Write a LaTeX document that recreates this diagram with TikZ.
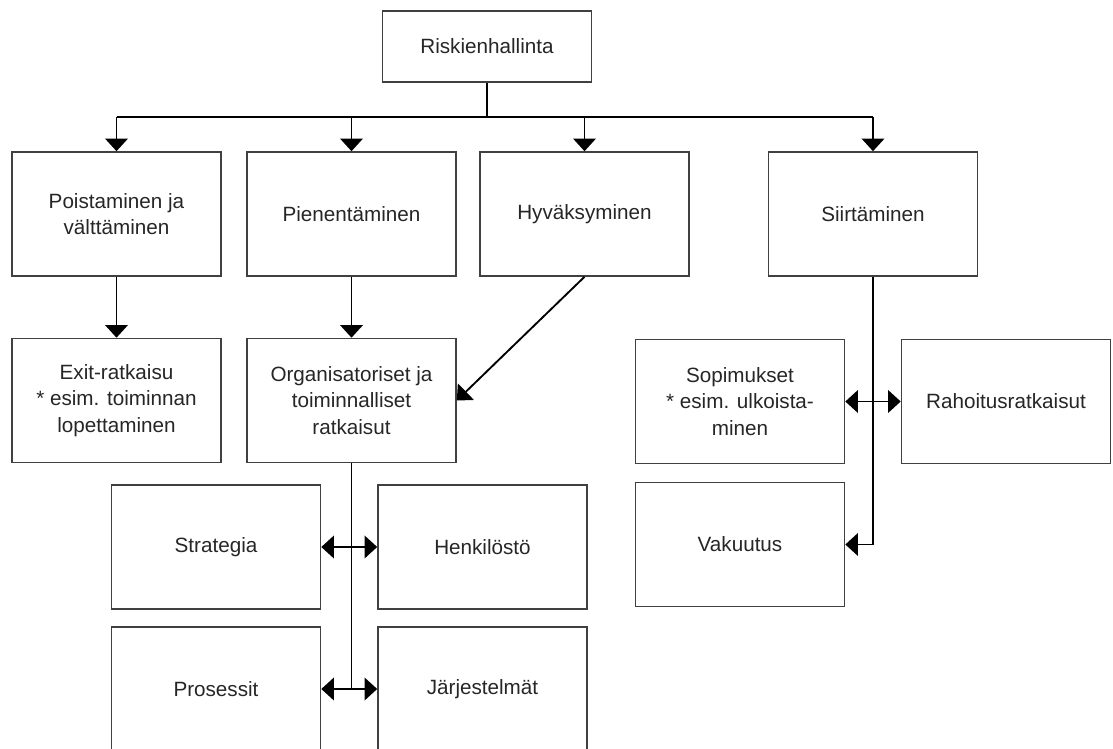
\documentclass[tikz,border=0pt]{standalone}
\usepackage{fontspec}
\setmainfont{Liberation Sans}
\usetikzlibrary{arrows.meta}

\begin{document}
\begin{tikzpicture}[x=0.75pt, y=-0.75pt,
    laatikko/.style={draw=black!75, line width=1.2pt, minimum width=156.75pt,
        minimum height=93pt, align=center, inner sep=2pt,
        font=\fontsize{15.5}{20}\selectfont, text=black!85},
    nuoli/.style={line width=1.4pt, -{Triangle[length=9.5pt, width=17pt]}},
    kaksi/.style={line width=1.4pt, {Triangle[length=9.5pt, width=17pt]}-{Triangle[length=9.5pt, width=17pt]}},
    viiva/.style={line width=1.4pt}]

    % Kuvan rajat
    \useasboundingbox (0, 0) rectangle (1113, 749);
    \clip (0, 0) rectangle (1113, 749);

    % Ylin laatikko
    \node[laatikko, minimum height=53.25pt] (risk) at (487, 46.5) {Riskienhallinta};

    % Toinen taso
    \node[laatikko] (poist) at (116.5, 214) {Poistaminen ja\\välttäminen};
    \node[laatikko] (pien) at (351.5, 214) {Pienentäminen};
    \node[laatikko] (hyv) at (584.5, 214) {Hyväksyminen};
    \node[laatikko] (siirt) at (873, 214) {Siirtäminen};

    % Kolmas taso
    \node[laatikko] (exit) at (116.5, 400.5) {Exit-ratkaisu\\* esim. toiminnan\\lopettaminen};
    \node[laatikko] (org) at (351.5, 400.5) {Organisatoriset ja\\toiminnalliset\\ratkaisut};
    \node[laatikko] (sop) at (740, 401.5) {Sopimukset\\* esim. ulkoista-\\minen};
    \node[laatikko] (rah) at (1006, 401.5) {Rahoitusratkaisut};

    % Alimmat laatikot
    \node[laatikko] (strat) at (216, 547) {Strategia};
    \node[laatikko] (henk) at (482.5, 547) {Henkilöstö};
    \node[laatikko] (pros) at (216, 689) {Prosessit};
    \node[laatikko] (jarj) at (482.5, 689) {Järjestelmät};
    \node[laatikko] (vak) at (740, 544.5) {Vakuutus};

    % Haarautuminen ylhäältä
    \draw[viiva] (risk.south) -- ++(0, 34) coordinate (haara);
    \draw[viiva] (haara -| poist.north) -- (haara -| siirt.north);
    \foreach \k in {poist, pien, hyv, siirt}
        \draw[nuoli] (haara -| \k.north) -- (\k.north);

    % Toisesta tasosta alas
    \draw[nuoli] (poist.south) -- (exit.north);
    \draw[nuoli] (pien.south) -- (org.north);
    \draw[nuoli] (hyv.south) -- (org.east);
    \draw[nuoli] (siirt.south) |- (vak.east);
    \draw[kaksi] (sop.east) -- (rah.west);

    % Organisatoriset ratkaisut
    \draw[viiva] (org.south) -- (org.south |- pros.east);
    \draw[kaksi] (strat.east) -- (henk.west);
    \draw[kaksi] (pros.east) -- (jarj.west);
\end{tikzpicture}
\end{document}
